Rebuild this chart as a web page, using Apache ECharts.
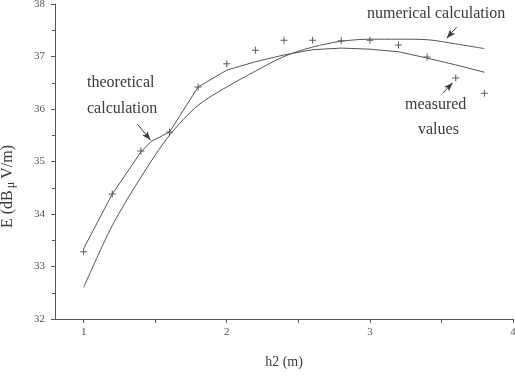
<!DOCTYPE html>
<html>
<head>
<meta charset="utf-8">
<script src="https://cdn.jsdelivr.net/npm/echarts@6/dist/echarts.min.js"></script>
<style>
  html, body { margin: 0; padding: 0; background: #fff; }
  #chart { width: 515px; height: 380px; }
</style>
</head>
<body>
<div id="chart"></div>
<script>
// Field strength E versus receiver height h2
const measuredH = [1.0, 1.2, 1.4, 1.6, 1.8, 2.0, 2.2, 2.4, 2.6, 2.8, 3.0, 3.2, 3.4, 3.6, 3.8];
const measuredE = [33.28, 34.38, 35.2, 35.56, 36.42, 36.86, 37.12, 37.31, 37.31, 37.3, 37.31, 37.22, 36.99, 36.59, 36.3];

const theoreticalH = [1.0, 1.2, 1.4, 1.47, 1.6, 1.8, 2.0, 2.2, 2.4, 2.6, 2.8, 3.0, 3.2, 3.4, 3.6, 3.8];
const theoreticalE = [33.34, 34.38, 35.18, 35.38, 35.56, 36.42, 36.74, 36.9, 37.03, 37.13, 37.16, 37.14, 37.09, 36.97, 36.84, 36.7];

const numericalH = [1.0, 1.2, 1.4, 1.6, 1.8, 2.0, 2.2, 2.4, 2.6, 2.8, 3.0, 3.2, 3.4, 3.6, 3.8];
const numericalE = [32.6, 33.78, 34.7, 35.5, 36.07, 36.42, 36.72, 37.0, 37.18, 37.29, 37.33, 37.33, 37.32, 37.24, 37.15];

const xTicks = [1, 1.5, 2, 2.5, 3, 3.5, 4];
const xTickLabels = [1, 2, 3, 4];

// arrow annotations: [fromH, fromE, toH, toE]
const arrowTheoretical = [1.376, 35.71, 1.467, 35.41];
const arrowNumerical = [3.606, 37.56, 3.537, 37.35];
const arrowMeasured = [3.509, 36.30, 3.578, 36.50];

const pairs = (xs, ys) => xs.map((x, i) => [x, ys[i]]);
const arrow = a => [{ coord: [a[0], a[1]], symbol: 'none' }, { coord: [a[2], a[3]], symbol: 'arrow', symbolSize: [5, 9] }];

const ink = '#3a3a3a';
const serif = '"Liberation Serif", "DejaVu Serif", serif';

const chart = echarts.init(document.getElementById('chart'), null, { renderer: 'canvas' });
chart.setOption({
  animation: false,
  backgroundColor: '#fff',
  grid: { left: 55, right: 2, top: 4, bottom: 61, containLabel: false, outerBoundsMode: 'none' },
  xAxis: {
    type: 'value', min: 0.8, max: 4,
    name: 'h2 (m)', nameLocation: 'middle', nameGap: 36,
    nameTextStyle: { fontFamily: serif, fontSize: 14, color: ink },
    axisLine: { show: true, lineStyle: { color: '#555', width: 1 } },
    axisTick: { show: true, customValues: xTicks, length: 4, lineStyle: { color: '#555' } },
    axisLabel: { customValues: xTickLabels, fontFamily: serif, fontSize: 11, color: '#555', margin: 8 },
    splitLine: { show: false }
  },
  yAxis: {
    type: 'value', min: 32, max: 38, interval: 1,
    name: 'E (dB{sub|μ}V/m)', nameLocation: 'middle', nameGap: 38,
    nameTextStyle: {
      fontFamily: serif, fontSize: 16, color: ink, padding: [0, 50, 0, 0],
      rich: { sub: { fontFamily: serif, fontSize: 12, color: ink, padding: [6, 3, 0, 2] } }
    },
    axisLine: { show: true, lineStyle: { color: '#555', width: 1 } },
    axisTick: { show: true, length: 4, inside: false, lineStyle: { color: '#555' } },
    minorTick: { show: true, splitNumber: 2, length: 3, lineStyle: { color: '#555' } },
    axisLabel: { fontFamily: serif, fontSize: 11, color: '#555', margin: 10 },
    splitLine: { show: false }
  },
  series: [
    {
      name: 'theoretical calculation', type: 'line',
      data: pairs(theoreticalH, theoreticalE),
      showSymbol: false, smooth: false,
      lineStyle: { color: '#555', width: 1 },
      markLine: {
        silent: true, symbol: ['none', 'arrow'],
        lineStyle: { color: ink, width: 1, type: 'solid' },
        label: { show: false },
        data: [arrow(arrowTheoretical), arrow(arrowNumerical), arrow(arrowMeasured)]
      }
    },
    {
      name: 'numerical calculation', type: 'line',
      data: pairs(numericalH, numericalE),
      showSymbol: false, smooth: 0.3,
      lineStyle: { color: '#555', width: 1 }
    },
    {
      name: 'measured values', type: 'scatter',
      data: pairs(measuredH, measuredE),
      symbol: 'path://M3,0h1v3h3v1h-3v3h-1v-3h-3v-1h3z',
      symbolSize: 7,
      itemStyle: { color: '#333' }
    }
  ],
  graphic: [
    { type: 'text', left: 87, top: 75, style: { text: 'theoretical', font: '16px ' + serif, fill: ink } },
    { type: 'text', left: 87, top: 101, style: { text: 'calculation', font: '16px ' + serif, fill: ink } },
    { type: 'text', left: 367, top: 6, style: { text: 'numerical calculation', font: '16px ' + serif, fill: ink } },
    { type: 'text', left: 405, top: 97, style: { text: 'measured', font: '16px ' + serif, fill: ink } },
    { type: 'text', left: 418, top: 122, style: { text: 'values', font: '16px ' + serif, fill: ink } }
  ]
});
</script>
</body>
</html>
